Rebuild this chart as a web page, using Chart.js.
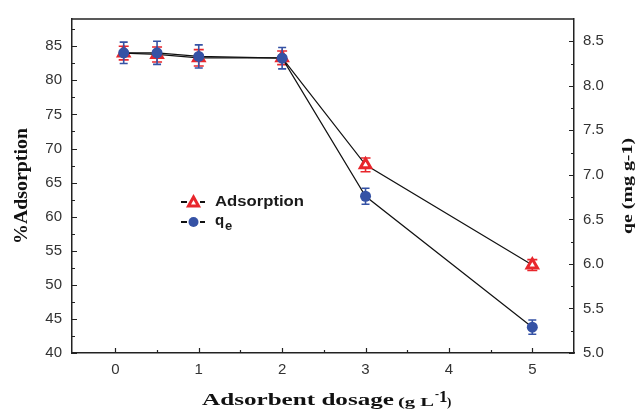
<!DOCTYPE html>
<html>
<head>
<meta charset="utf-8">
<script src="https://cdn.jsdelivr.net/npm/chart.js@4.4.1/dist/chart.umd.min.js"></script>
<style>
  html, body { margin: 0; padding: 0; background: #fff; }
  #wrap { width: 638px; height: 412px; position: relative; }
</style>
</head>
<body>
<div id="wrap"><canvas id="c"></canvas></div>
<script>
// Adsorbent dosage (g/L) and the two measured responses
const dosage = [0.1, 0.5, 1, 2, 3, 5];
const adsorption = [84.0, 83.8, 83.3, 83.3, 67.6, 52.9];
const adsorptionErr = [1.0, 1.1, 1.2, 1.0, 1.0, 0.8];
const qe = [8.37, 8.37, 8.33, 8.31, 6.76, 5.29];
const qeErr = [0.12, 0.13, 0.13, 0.12, 0.09, 0.08];

// Tick labels
const xTicks = [0, 1, 2, 3, 4, 5];
const leftTicks = [40, 45, 50, 55, 60, 65, 70, 75, 80, 85];
const rightTicks = [5.0, 5.5, 6.0, 6.5, 7.0, 7.5, 8.0, 8.5];

const RED = '#e8262c';
const BLUE = '#3552a5';
const AXIS = '#222';
const SANS = '"Liberation Sans", Arial, sans-serif';
const SERIF = '"Liberation Serif", "Times New Roman", serif';

const mid = arr => arr.slice(0, -1).map((v, i) => (v + arr[i + 1]) / 2);

// draw text squeezed/stretched horizontally to a given width
function fitText(ctx, text, x, y, width) {
  const w = ctx.measureText(text).width;
  ctx.save();
  ctx.translate(x, y);
  ctx.scale(width / w, 1);
  ctx.fillText(text, 0, 0);
  ctx.restore();
}

const errorBars = {
  id: 'errorBars',
  beforeDatasetDraw(chart, args) {
    const ds = chart.data.datasets[args.index];
    if (!ds.errors) return;
    const ctx = chart.ctx;
    const xs = chart.scales.x, ys = chart.scales[ds.yAxisID];
    ctx.save();
    ctx.strokeStyle = ds.errColor;
    ctx.lineWidth = 1.6;
    ds.data.forEach((p, i) => {
      const x = xs.getPixelForValue(p.x);
      const y1 = ys.getPixelForValue(p.y - ds.errors[i]);
      const y2 = ys.getPixelForValue(p.y + ds.errors[i]);
      const c = ds.capHalf;
      ctx.beginPath();
      ctx.moveTo(x, y1); ctx.lineTo(x, y2);
      ctx.moveTo(x - c, y1); ctx.lineTo(x + c, y1);
      ctx.moveTo(x - c, y2); ctx.lineTo(x + c, y2);
      ctx.stroke();
    });
    ctx.restore();
  }
};

const frame = {
  id: 'frame',
  afterDraw(chart) {
    const ctx = chart.ctx;
    const a = chart.chartArea;
    const xs = chart.scales.x, yl = chart.scales.yL, yr = chart.scales.yR;
    ctx.save();
    ctx.strokeStyle = AXIS;
    ctx.lineWidth = 1.5;
    // top border
    ctx.beginPath();
    ctx.moveTo(a.left, a.top); ctx.lineTo(a.right, a.top);
    ctx.stroke();

    // inward tick marks
    ctx.lineWidth = 1.2;
    ctx.beginPath();
    const tick = (x1, y1, x2, y2) => { ctx.moveTo(x1, y1); ctx.lineTo(x2, y2); };
    xTicks.forEach(v => { const x = Math.round(xs.getPixelForValue(v)) + 0.5; tick(x, a.bottom, x, a.bottom - 5); });
    mid(xTicks).forEach(v => { const x = Math.round(xs.getPixelForValue(v)) + 0.5; tick(x, a.bottom, x, a.bottom - 3); });
    leftTicks.forEach(v => { const y = Math.round(yl.getPixelForValue(v)) + 0.5; tick(a.left, y, a.left + 5, y); });
    mid(leftTicks).concat([87.5]).forEach(v => { const y = Math.round(yl.getPixelForValue(v)) + 0.5; tick(a.left, y, a.left + 3, y); });
    rightTicks.forEach(v => { const y = Math.round(yr.getPixelForValue(v)) + 0.5; tick(a.right, y, a.right - 5, y); });
    mid(rightTicks).forEach(v => { const y = Math.round(yr.getPixelForValue(v)) + 0.5; tick(a.right, y, a.right - 3, y); });
    ctx.stroke();

    // axis titles
    ctx.fillStyle = '#111';
    ctx.textBaseline = 'middle';
    ctx.textAlign = 'left';
    const cy = (a.top + a.bottom) / 2;

    ctx.font = 'bold 18px ' + SERIF;
    ctx.save();
    ctx.translate(22, cy);
    ctx.rotate(-Math.PI / 2);
    fitText(ctx, '%Adsorption', -58, 0, 116);
    ctx.restore();

    ctx.font = 'bold 15px ' + SERIF;
    ctx.save();
    ctx.translate(628, cy);
    ctx.rotate(-Math.PI / 2);
    fitText(ctx, 'qe (mg g-1)', -48, 0, 96);
    ctx.restore();

    ctx.textBaseline = 'alphabetic';
    ctx.font = 'bold 17px ' + SERIF;
    fitText(ctx, 'Adsorbent dosage', 202, 405, 192);
    ctx.font = 'bold 13px ' + SERIF;
    fitText(ctx, '(g L', 398, 406, 36);
    ctx.font = 'bold 12px ' + SERIF;
    ctx.fillText('-', 435, 398);
    ctx.font = 'bold 17px ' + SERIF;
    ctx.fillText('1', 439, 402);
    ctx.font = 'bold 13px ' + SERIF;
    ctx.fillText(')', 447, 406);

    // legend
    const lx = 181;
    const rows = [202, 222];
    ctx.strokeStyle = '#111';
    ctx.lineWidth = 2;
    rows.forEach(y => {
      ctx.beginPath();
      ctx.moveTo(lx, y); ctx.lineTo(lx + 6, y);
      ctx.moveTo(lx + 19, y); ctx.lineTo(lx + 24, y);
      ctx.stroke();
    });
    // triangle marker
    ctx.strokeStyle = RED;
    ctx.fillStyle = '#fff';
    ctx.lineWidth = 3;
    ctx.beginPath();
    ctx.moveTo(lx + 12.5, rows[0] - 5);
    ctx.lineTo(lx + 17.5, rows[0] + 4);
    ctx.lineTo(lx + 7.5, rows[0] + 4);
    ctx.closePath();
    ctx.fill(); ctx.stroke();
    // circle marker
    ctx.fillStyle = BLUE;
    ctx.beginPath();
    ctx.arc(lx + 12.5, rows[1], 5, 0, Math.PI * 2);
    ctx.fill();

    ctx.fillStyle = '#1a1a1a';
    ctx.textBaseline = 'middle';
    ctx.font = 'bold 15px ' + SANS;
    fitText(ctx, 'Adsorption', 215, rows[0], 89);
    ctx.fillText('q', 215, rows[1] - 1);
    ctx.font = 'bold 13px ' + SANS;
    ctx.fillText('e', 225, rows[1] + 4);
    ctx.restore();
  }
};

const tickFont = { family: SANS, size: 15 };

new Chart(document.getElementById('c'), {
  type: 'line',
  data: {
    datasets: [
      {
        label: 'Adsorption',
        data: dosage.map((x, i) => ({ x, y: adsorption[i] })),
        errors: adsorptionErr,
        errColor: RED,
        capHalf: 5,
        yAxisID: 'yL',
        borderColor: '#111',
        borderWidth: 1.2,
        pointStyle: 'triangle',
        pointRadius: 6,
        pointBorderWidth: 3,
        pointBorderColor: RED,
        pointBackgroundColor: '#fff',
        tension: 0,
        order: 2
      },
      {
        label: 'qe',
        data: dosage.map((x, i) => ({ x, y: qe[i] })),
        errors: qeErr,
        errColor: BLUE,
        capHalf: 4,
        yAxisID: 'yR',
        borderColor: '#111',
        borderWidth: 1.2,
        pointStyle: 'circle',
        pointRadius: 5.5,
        pointBorderWidth: 0,
        pointBackgroundColor: BLUE,
        tension: 0,
        order: 1
      }
    ]
  },
  options: {
    responsive: true,
    maintainAspectRatio: false,
    animation: false,
    events: [],
    layout: { padding: { top: 18, left: 0, right: 0, bottom: 0 } },
    plugins: { legend: { display: false }, tooltip: { enabled: false } },
    scales: {
      x: {
        type: 'linear',
        min: -0.52,
        max: 5.5,
        grid: { display: false, drawTicks: false },
        border: { display: true, color: AXIS, width: 1.5 },
        afterBuildTicks: s => { s.ticks = xTicks.map(v => ({ value: v })); },
        afterFit: s => { s.height = 59; },
        ticks: { padding: 8, color: '#333', font: tickFont, callback: v => String(v) }
      },
      yL: {
        type: 'linear',
        position: 'left',
        min: 40,
        max: 89,
        grid: { display: false, drawTicks: false },
        border: { display: true, color: AXIS, width: 1.5 },
        afterBuildTicks: s => { s.ticks = leftTicks.map(v => ({ value: v })); },
        afterFit: s => { s.width = 72; },
        ticks: { padding: 10, color: '#333', font: tickFont, callback: v => String(v) }
      },
      yR: {
        type: 'linear',
        position: 'right',
        min: 5.0,
        max: 8.75,
        grid: { display: false, drawTicks: false },
        border: { display: true, color: AXIS, width: 1.5 },
        afterBuildTicks: s => { s.ticks = rightTicks.map(v => ({ value: v })); },
        afterFit: s => { s.width = 64; },
        ticks: { padding: 9, color: '#333', font: tickFont, callback: v => Number(v).toFixed(1) }
      }
    }
  },
  plugins: [errorBars, frame]
});
</script>
</body>
</html>
